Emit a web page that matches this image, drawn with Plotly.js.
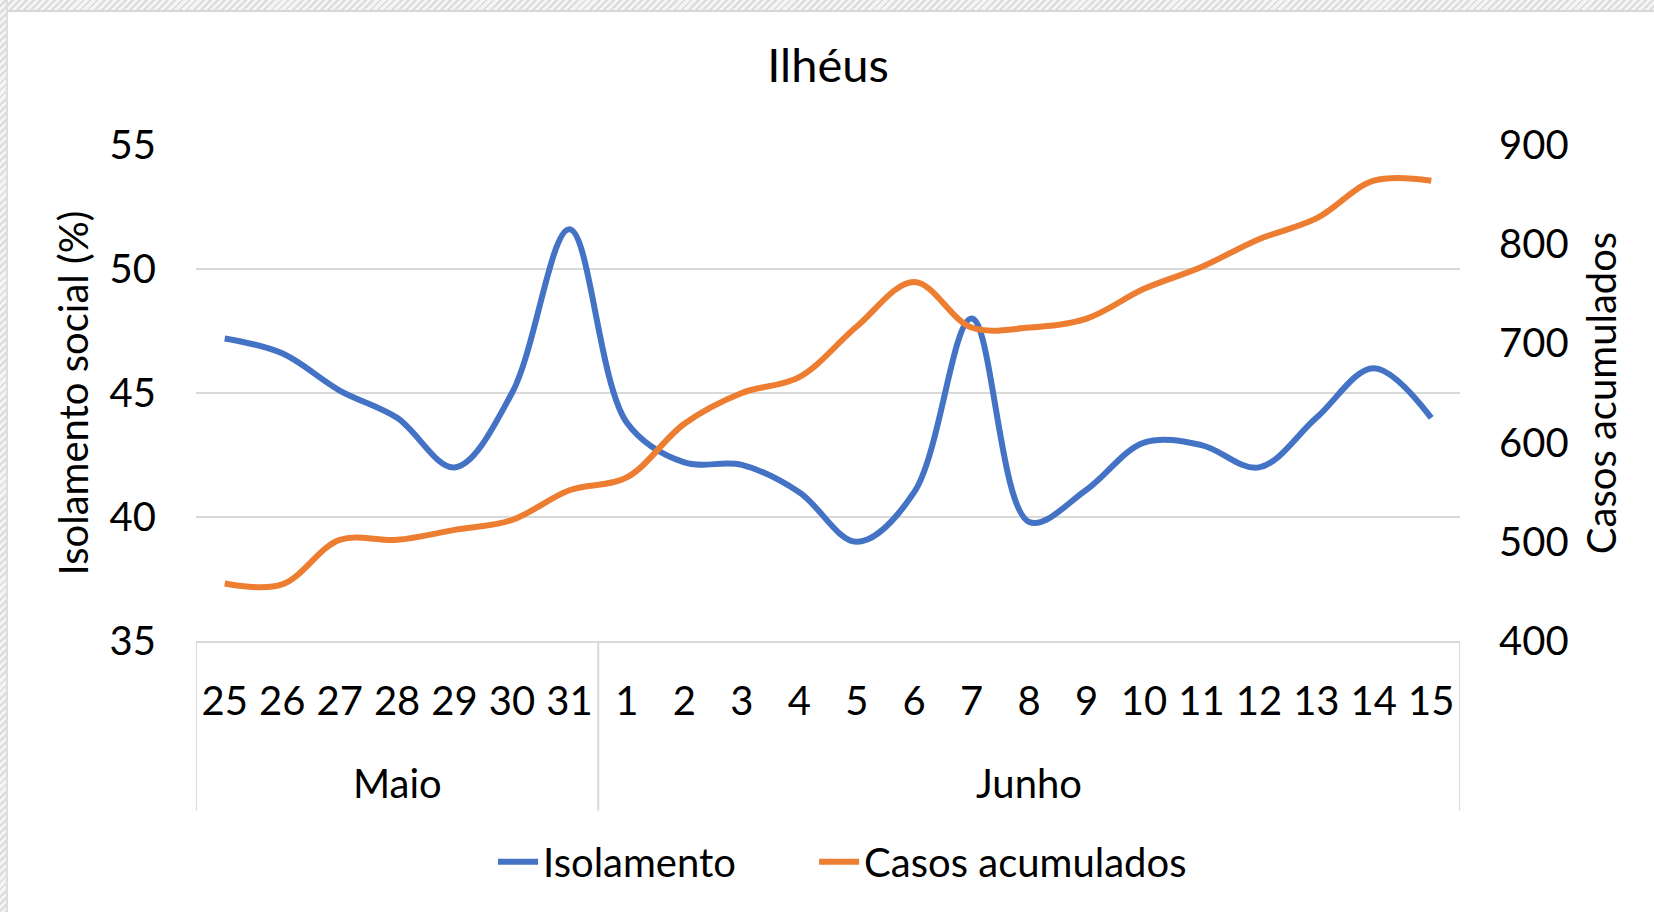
<!DOCTYPE html>
<html>
<head>
<meta charset="utf-8">
<script src="https://cdn.plot.ly/plotly-3.0.1.min.js"></script>
<style>
  html, body { margin: 0; padding: 0; background: #ffffff; }
  #chart { position: absolute; left: 0; top: 0; width: 1654px; height: 912px; }
  .frame-top { position: absolute; left: 0; top: 0; width: 1654px; height: 10px;
    background: repeating-linear-gradient(135deg, #f4f4f4 0 3px, #dcdcdc 3px 5px);
    border-bottom: 2px solid #d6d6d6; pointer-events: none; }
  .frame-left { position: absolute; left: 0; top: 0; width: 6px; height: 912px;
    background: repeating-linear-gradient(135deg, #f4f4f4 0 3px, #dcdcdc 3px 5px);
    border-right: 2px solid #dedede; pointer-events: none; }
</style>
</head>
<body>
<div id="chart"></div>
<div class="frame-top"></div>
<div class="frame-left"></div>
<script>
// ---- data ----
const meses = ['Maio','Maio','Maio','Maio','Maio','Maio','Maio',
  'Junho','Junho','Junho','Junho','Junho','Junho','Junho','Junho',
  'Junho','Junho','Junho','Junho','Junho','Junho','Junho'];
const dias = ['25','26','27','28','29','30','31',
  '1','2','3','4','5','6','7','8','9','10','11','12','13','14','15'];
const isolamento = [47.2, 46.6, 45.1, 44.0, 42.0, 45.0, 51.6,
  43.8, 42.2, 42.1, 41.0, 39.0, 41.0, 48.0, 39.8, 41.1, 43.0, 42.9, 42.0, 44.0, 46.0, 44.0];
const casos = [458, 457, 502, 502, 512, 522, 552,
  565, 619, 650, 666, 717, 762, 716, 716, 725, 755, 777, 805, 826, 864, 864];
const seriesNames = ['Isolamento', 'Casos acumulados'];
const mesesUnicos = ['Maio', 'Junho'];

const FONT = 'Lato, "Open Sans", sans-serif';
const GRID = '#D9D9D9';

// month groups: first/last index of each month (derived from the data arrays)
const groups = mesesUnicos.map(m => {
  const first = meses.indexOf(m), last = meses.lastIndexOf(m);
  return { m, first, last };
});

const traces = [
  {
    type: 'scatter', mode: 'lines', name: seriesNames[0],
    x: dias, y: isolamento,
    line: { color: '#4472C4', width: 6, shape: 'spline', smoothing: 1 },
    yaxis: 'y', legend: 'legend'
  },
  {
    type: 'scatter', mode: 'lines', name: seriesNames[1],
    x: dias, y: casos,
    line: { color: '#ED7D31', width: 6, shape: 'spline', smoothing: 1 },
    yaxis: 'y2', legend: 'legend2'
  }
];

const DIV_BOTTOM = -0.342;   // divider lines bottom (paper coords)
const MONTH_Y = -0.286;      // month label centre (paper coords)

const shapes = [];
const boundaries = [-0.5];
groups.forEach(g => boundaries.push(g.last + 0.5));
boundaries.forEach(b => shapes.push({
  type: 'line', xref: 'x', yref: 'paper', x0: b, x1: b, y0: 0, y1: DIV_BOTTOM,
  line: { color: GRID, width: 2 }
}));

const annotations = groups.map(g => ({
  xref: 'x', yref: 'paper', x: (g.first + g.last) / 2, y: MONTH_Y,
  text: g.m, showarrow: false, xanchor: 'center', yanchor: 'middle',
  font: { family: FONT, size: 40, color: '#000000' }
}));

const legendBase = {
  orientation: 'h', y: -0.445, yanchor: 'middle', xanchor: 'left',
  font: { family: FONT, size: 40, color: '#000000' },
  bgcolor: 'rgba(0,0,0,0)', itemwidth: 40
};

const layout = {
  width: 1654, height: 912,
  paper_bgcolor: '#ffffff', plot_bgcolor: '#ffffff',
  margin: { l: 196, r: 194, t: 145, b: 271 },
  font: { family: FONT, color: '#000000', size: 40 },
  title: {
    text: 'Ilhéus', x: 0.5, xanchor: 'center', xref: 'paper',
    y: 1 - 66/912, yref: 'container', yanchor: 'middle',
    font: { family: FONT, size: 47, color: '#000000' }
  },
  showlegend: true,
  legend: Object.assign({}, legendBase, { x: 0.235 }),
  legend2: Object.assign({}, legendBase, { x: 0.489 }),
  xaxis: {
    type: 'category', categoryorder: 'array', categoryarray: dias,
    range: [-0.5, dias.length - 0.5],
    showgrid: false, zeroline: false,
    showline: true, linecolor: GRID, linewidth: 2,
    ticks: '', ticklabelstandoff: 24,
    tickfont: { family: FONT, size: 40, color: '#000000' },
    fixedrange: true
  },
  yaxis: {
    range: [35, 55], dtick: 5, tick0: 35,
    showgrid: true, gridcolor: GRID, gridwidth: 2,
    zeroline: false, showline: false, ticks: '',
    ticklabelstandoff: 39, automargin: true,
    tickfont: { family: FONT, size: 40, color: '#000000' },
    title: { text: 'Isolamento social (%)', standoff: 8,
      font: { family: FONT, size: 40, color: '#000000' } }
  },
  yaxis2: {
    overlaying: 'y', side: 'right',
    range: [400, 900], dtick: 100, tick0: 400,
    showgrid: false, zeroline: false, showline: false, ticks: '',
    ticklabelstandoff: 38, automargin: true,
    tickfont: { family: FONT, size: 40, color: '#000000' },
    title: { text: 'Casos acumulados', standoff: 20,
      font: { family: FONT, size: 40, color: '#000000' } }
  },
  shapes: shapes,
  annotations: annotations
};

Plotly.newPlot('chart', traces, layout, { staticPlot: true, displayModeBar: false });
</script>
</body>
</html>
